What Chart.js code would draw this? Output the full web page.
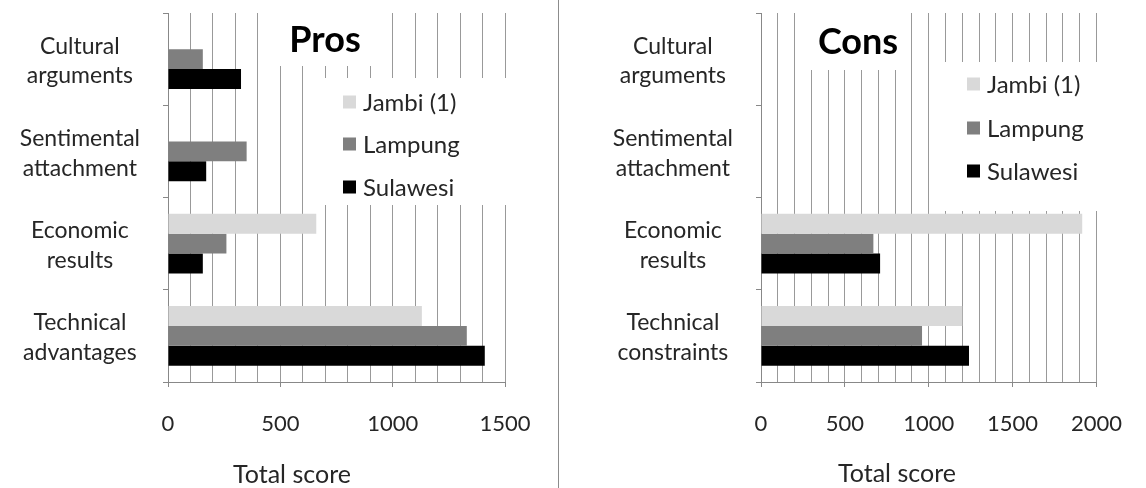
<!DOCTYPE html>
<html>
<head>
<meta charset="utf-8">
<script src="https://cdn.jsdelivr.net/npm/chart.js@4/dist/chart.umd.min.js"></script>
<style>
  body { margin: 0; background: #fff; }
  #wrap { position: relative; width: 1146px; height: 488px; overflow: hidden; }
  canvas { position: absolute; top: 0; }
  #pros { left: 0; }
  #cons { left: 562px; }
  #divider { position: absolute; left: 558px; top: 0; width: 1px; height: 488px; background: #8c8c8c; }
</style>
</head>
<body>
<div id="wrap">
  <canvas id="pros" width="556" height="488"></canvas>
  <div id="divider"></div>
  <canvas id="cons" width="584" height="488"></canvas>
</div>
<script>
// DATA
const prosCategories = [['Cultural', 'arguments'], ['Sentimental', 'attachment'], ['Economic', 'results'], ['Technical', 'advantages']];
const consCategories = [['Cultural', 'arguments'], ['Sentimental', 'attachment'], ['Economic', 'results'], ['Technical', 'constraints']];
const seriesNames = ['Jambi (1)', 'Lampung', 'Sulawesi'];
const seriesColors = ['#d9d9d9', '#7f7f7f', '#000000'];

const prosJambi = [0, 0, 660, 1130];
const prosLampung = [155, 350, 260, 1330];
const prosSulawesi = [325, 170, 155, 1410];

const consJambi = [0, 0, 1915, 1200];
const consLampung = [0, 0, 670, 960];
const consSulawesi = [0, 0, 710, 1240];

const prosMax = 1500;
const consMax = 2000;
const axisTitleText = 'Total score';

const FONT = 'Lato, "Open Sans", sans-serif';
const TEXT = '#262626';

// TITLE + LEGEND + AXIS TITLE OVERLAY
const overlayPlugin = {
    id: 'overlay',
    beforeDatasetsDraw(chart, args, opts) {
        // white boxes behind title and legend hide the gridlines there
        const ctx = chart.ctx;
        ctx.save();
        ctx.fillStyle = '#fff';
        [opts.titleBox, opts.legendBox].forEach(b => ctx.fillRect(b.x, b.y, b.w, b.h));
        ctx.restore();
    },
    afterDraw(chart, args, opts) {
        const ctx = chart.ctx;
        ctx.save();
        ctx.fillStyle = '#000';
        ctx.font = 'bold 36px ' + FONT;
        ctx.textAlign = 'center';
        ctx.textBaseline = 'alphabetic';
        ctx.fillText(opts.title, opts.titleX, opts.titleY);

        ctx.font = '24px ' + FONT;
        ctx.textAlign = 'left';
        ctx.textBaseline = 'middle';
        chart.data.datasets.forEach((ds, i) => {
            const y = opts.legendRows[i];
            ctx.fillStyle = ds.backgroundColor;
            ctx.fillRect(opts.legendX, y - 6.5, 13, 13);
            ctx.fillStyle = TEXT;
            ctx.fillText(ds.label, opts.legendX + 20, y + 1);
        });

        ctx.font = '25px ' + FONT;
        ctx.textAlign = 'center';
        ctx.textBaseline = 'alphabetic';
        ctx.fillStyle = TEXT;
        ctx.fillText(axisTitleText, opts.axisTitleX, opts.axisTitleY);
        ctx.restore();
    }
};

function makeChart(id, labels, values, max, yWidth, padRight, overlay) {
    const ctx = document.getElementById(id).getContext('2d');
    return new Chart(ctx, {
        type: 'bar',
        data: {
            labels: labels,
            datasets: values.map((v, i) => ({
                label: seriesNames[i],
                data: v,
                backgroundColor: seriesColors[i],
                borderWidth: 0,
                categoryPercentage: 0.65,
                barPercentage: 1.0
            }))
        },
        options: {
            indexAxis: 'y',
            responsive: false,
            animation: false,
            devicePixelRatio: 1,
            layout: { padding: { top: 13, right: padRight, left: 0, bottom: 0 } },
            scales: {
                x: {
                    min: 0,
                    max: max,
                    border: { color: '#888' },
                    grid: {
                        color: '#999',
                        lineWidth: 1,
                        tickLength: 5,
                        tickColor: c => (c.tick && c.tick.value % 500 === 0) ? '#888' : 'rgba(0,0,0,0)'
                    },
                    ticks: {
                        stepSize: 100,
                        autoSkip: false,
                        maxRotation: 0,
                        padding: 24,
                        color: TEXT,
                        font: { family: FONT, size: 22 },
                        callback: v => v % 500 === 0 ? v : ''
                    },
                    afterFit: s => { s.height = 106; }
                },
                y: {
                    border: { color: '#888' },
                    grid: {
                        drawOnChartArea: false,
                        tickLength: 5,
                        color: '#888'
                    },
                    ticks: {
                        crossAlign: 'center',
                        padding: 23,
                        labelOffset: 2,
                        color: TEXT,
                        font: { family: FONT, size: 23, lineHeight: 1.3 }
                    },
                    afterFit: s => {
                        s.width = yWidth;
                        s.paddingTop = 0;
                        s.paddingBottom = 0;
                    }
                }
            },
            plugins: {
                legend: { display: false },
                tooltip: { enabled: false },
                overlay: overlay
            }
        },
        plugins: [overlayPlugin]
    });
}

// PROS
makeChart('pros', prosCategories, [prosJambi, prosLampung, prosSulawesi], prosMax, 168, 51, {
    title: 'Pros', titleX: 325, titleY: 52,
    titleBox: { x: 272, y: 13, w: 108, h: 53 },
    legendBox: { x: 312, y: 78, w: 198, h: 127 },
    legendX: 343, legendRows: [102, 144, 187],
    axisTitleX: 292, axisTitleY: 483
});

// CONS (canvas starts at x=562)
makeChart('cons', consCategories, [consJambi, consLampung, consSulawesi], consMax, 199, 30, {
    title: 'Cons', titleX: 858 - 562, titleY: 54,
    titleBox: { x: 803 - 562, y: 13, w: 108, h: 57 },
    legendBox: { x: 945 - 562, y: 62, w: 163, h: 149 },
    legendX: 967 - 562, legendRows: [84, 128, 171],
    axisTitleX: 897 - 562, axisTitleY: 482
});
</script>
</body>
</html>
